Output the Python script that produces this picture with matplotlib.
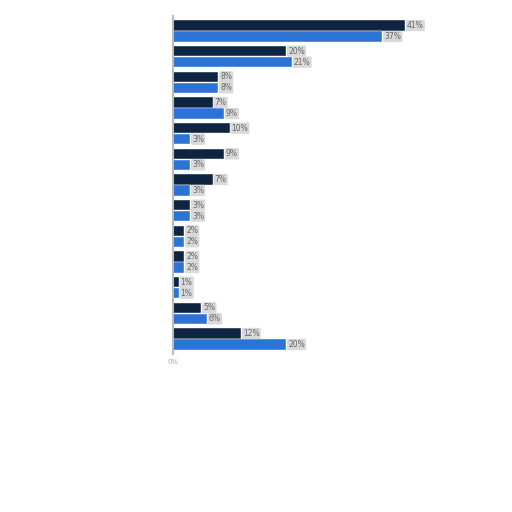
import matplotlib
matplotlib.use("Agg")
import matplotlib.pyplot as plt
import numpy as np

# two series per group, 13 groups (category labels not shown in the source)
groups = list(range(13))
series_a = [41, 20, 8, 7, 10, 9, 7, 3, 2, 2, 1, 5, 12]
series_b = [37, 21, 8, 9, 3, 3, 3, 3, 2, 2, 1, 6, 20]
dark = "#0e2440"
blue = "#2b74d6"


def label(ax, x, y, v):
    ax.text(x + 0.35, y, f"{v}%", va="center", ha="left", fontsize=5.5, color="#666666",
            bbox=dict(boxstyle="round,pad=0.15", fc="#d9d9d9", ec="none"))


fig = plt.figure(figsize=(5.12, 5.12), dpi=100)
ax = fig.add_axes([173 / 512, 1 - 354.4 / 512, 283 / 512, 338.8 / 512])

y = np.arange(len(groups))
h = 0.4
off = 0.214
ax.barh(y - off, series_a, height=h, color=dark, edgecolor="white", linewidth=0.3)
ax.barh(y + off, series_b, height=h, color=blue, edgecolor="white", linewidth=0.3)
for yi, a, b in zip(y, series_a, series_b):
    label(ax, a, yi - off, a)
    label(ax, b, yi + off, b)

ax.set_xlim(0, 50)
ax.set_ylim(len(groups) - 0.4, -0.6)
ax.set_xticks([0])
ax.set_xticklabels(["0%"], fontsize=5, color="#aaaaaa")
ax.tick_params(axis="x", length=0, pad=3)
ax.set_yticks([])
for s in ["top", "right", "bottom"]:
    ax.spines[s].set_visible(False)
ax.spines["left"].set_color("#bbbbbb")
ax.spines["left"].set_linewidth(1.5)

fig.savefig("out.png", dpi=100)
